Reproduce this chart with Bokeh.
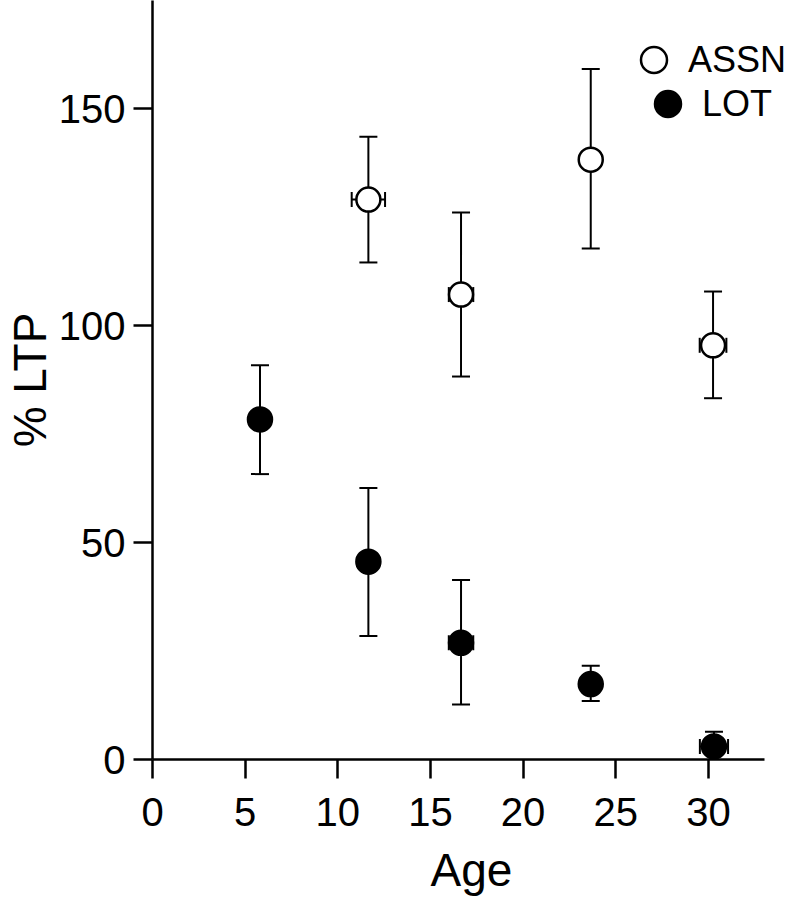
import math
from bokeh.plotting import figure
from bokeh.models import Range1d, Legend, LegendItem, FixedTicker, ColumnDataSource
from bokeh.embed import file_html
from bokeh.resources import INLINE

# ---- data ----
age_assn = [11.65, 16.65, 23.65, 30.25]
ltp_assn = [129.1, 107.2, 138.3, 95.5]
assn_hi = [143.6, 126.1, 159.2, 107.9]
assn_lo = [114.6, 88.3, 117.8, 83.3]
assn_xerr = [0.9, 0.66, 0.0, 0.72]

age_lot = [5.8, 11.65, 16.65, 23.65, 30.3]
ltp_lot = [78.4, 45.6, 26.9, 17.4, 3.0]
lot_hi = [90.9, 62.6, 41.4, 21.6, 6.4]
lot_lo = [65.8, 28.5, 12.7, 13.5, -0.9]
lot_xerr = [0.0, 0.0, 0.66, 0.0, 0.76]

x_ticks = [0, 5, 10, 15, 20, 25, 30]
y_ticks = [0, 50, 100, 150]
series_names = ["ASSN", "LOT"]

FONT = "Liberation Sans"

p = figure(width=790, height=898,
           x_range=Range1d(0, 34.43), y_range=Range1d(0, 175),
           output_backend="svg", toolbar_location=None,
           min_border_left=152, min_border_right=0,
           min_border_top=0, min_border_bottom=138)
p.outline_line_color = None
p.grid.visible = False
p.background_fill_color = "white"
p.border_fill_color = "white"

p.xaxis.ticker = FixedTicker(ticks=x_ticks)
p.yaxis.ticker = FixedTicker(ticks=y_ticks)
p.xaxis.bounds = (0, 33)
for ax in (p.xaxis, p.yaxis):
    ax.axis_line_width = 2.5
    ax.axis_line_color = "black"
    ax.major_tick_line_width = 2.5
    ax.major_tick_line_color = "black"
    ax.major_tick_out = 19
    ax.major_tick_in = 0
    ax.minor_tick_line_color = None
    ax.major_label_text_font = FONT
    ax.major_label_text_font_size = "40px"
    ax.major_label_text_color = "black"
    ax.axis_label_text_font = FONT
    ax.axis_label_text_font_size = "46px"
    ax.axis_label_text_font_style = "normal"
    ax.axis_label_text_color = "black"

p.xaxis.axis_label = "Age"
p.yaxis.axis_label = "% LTP"
p.xaxis.major_label_standoff = 19
p.xaxis.axis_label_standoff = 15
p.yaxis.major_label_standoff = 8
p.yaxis.axis_label_standoff = 0


def draw_series(xs, ys, hi, lo, xerr, fill):
    src = ColumnDataSource(dict(x=xs, y=ys, hi=hi, lo=lo))
    # vertical error bars
    p.segment(x0="x", y0="lo", x1="x", y1="hi", source=src,
              line_color="black", line_width=2)
    p.scatter(x="x", y="hi", source=src, marker="dash", size=18,
              line_color="black", line_width=2)
    p.scatter(x="x", y="lo", source=src, marker="dash", size=18,
              line_color="black", line_width=2)
    # horizontal error bars (where present)
    xe = [(x, y, e) for x, y, e in zip(xs, ys, xerr) if e > 0]
    if xe:
        hx = [a for a, _, _ in xe]
        hy = [b for _, b, _ in xe]
        he = [c for _, _, c in xe]
        hsrc = ColumnDataSource(dict(
            y=hy, left=[a - c for a, c in zip(hx, he)],
            right=[a + c for a, c in zip(hx, he)]))
        p.segment(x0="left", y0="y", x1="right", y1="y", source=hsrc,
                  line_color="black", line_width=2)
        p.scatter(x="left", y="y", source=hsrc, marker="dash", size=15,
                  angle=math.pi / 2, line_color="black", line_width=2)
        p.scatter(x="right", y="y", source=hsrc, marker="dash", size=15,
                  angle=math.pi / 2, line_color="black", line_width=2)
    return p.scatter(x="x", y="y", source=src, marker="circle", size=24,
                     fill_color=fill, line_color="black", line_width=2.5)


r_assn = draw_series(age_assn, ltp_assn, assn_hi, assn_lo, assn_xerr, "white")
r_lot = draw_series(age_lot, ltp_lot, lot_hi, lot_lo, lot_xerr, "black")


def make_legend(name, renderer, loc):
    return Legend(items=[LegendItem(label=name, renderers=[renderer])],
                  location=loc, orientation="vertical",
                  glyph_width=65, glyph_height=65,
                  label_standoff=2, padding=0, margin=0,
                  border_line_color=None, background_fill_alpha=0,
                  label_text_font=FONT, label_text_font_size="36px",
                  label_text_color="black")


p.add_layout(make_legend(series_names[0], r_assn, (469, 667)))
p.add_layout(make_legend(series_names[1], r_lot, (483, 623)))

open("out.html", "w").write(file_html(p, INLINE))
